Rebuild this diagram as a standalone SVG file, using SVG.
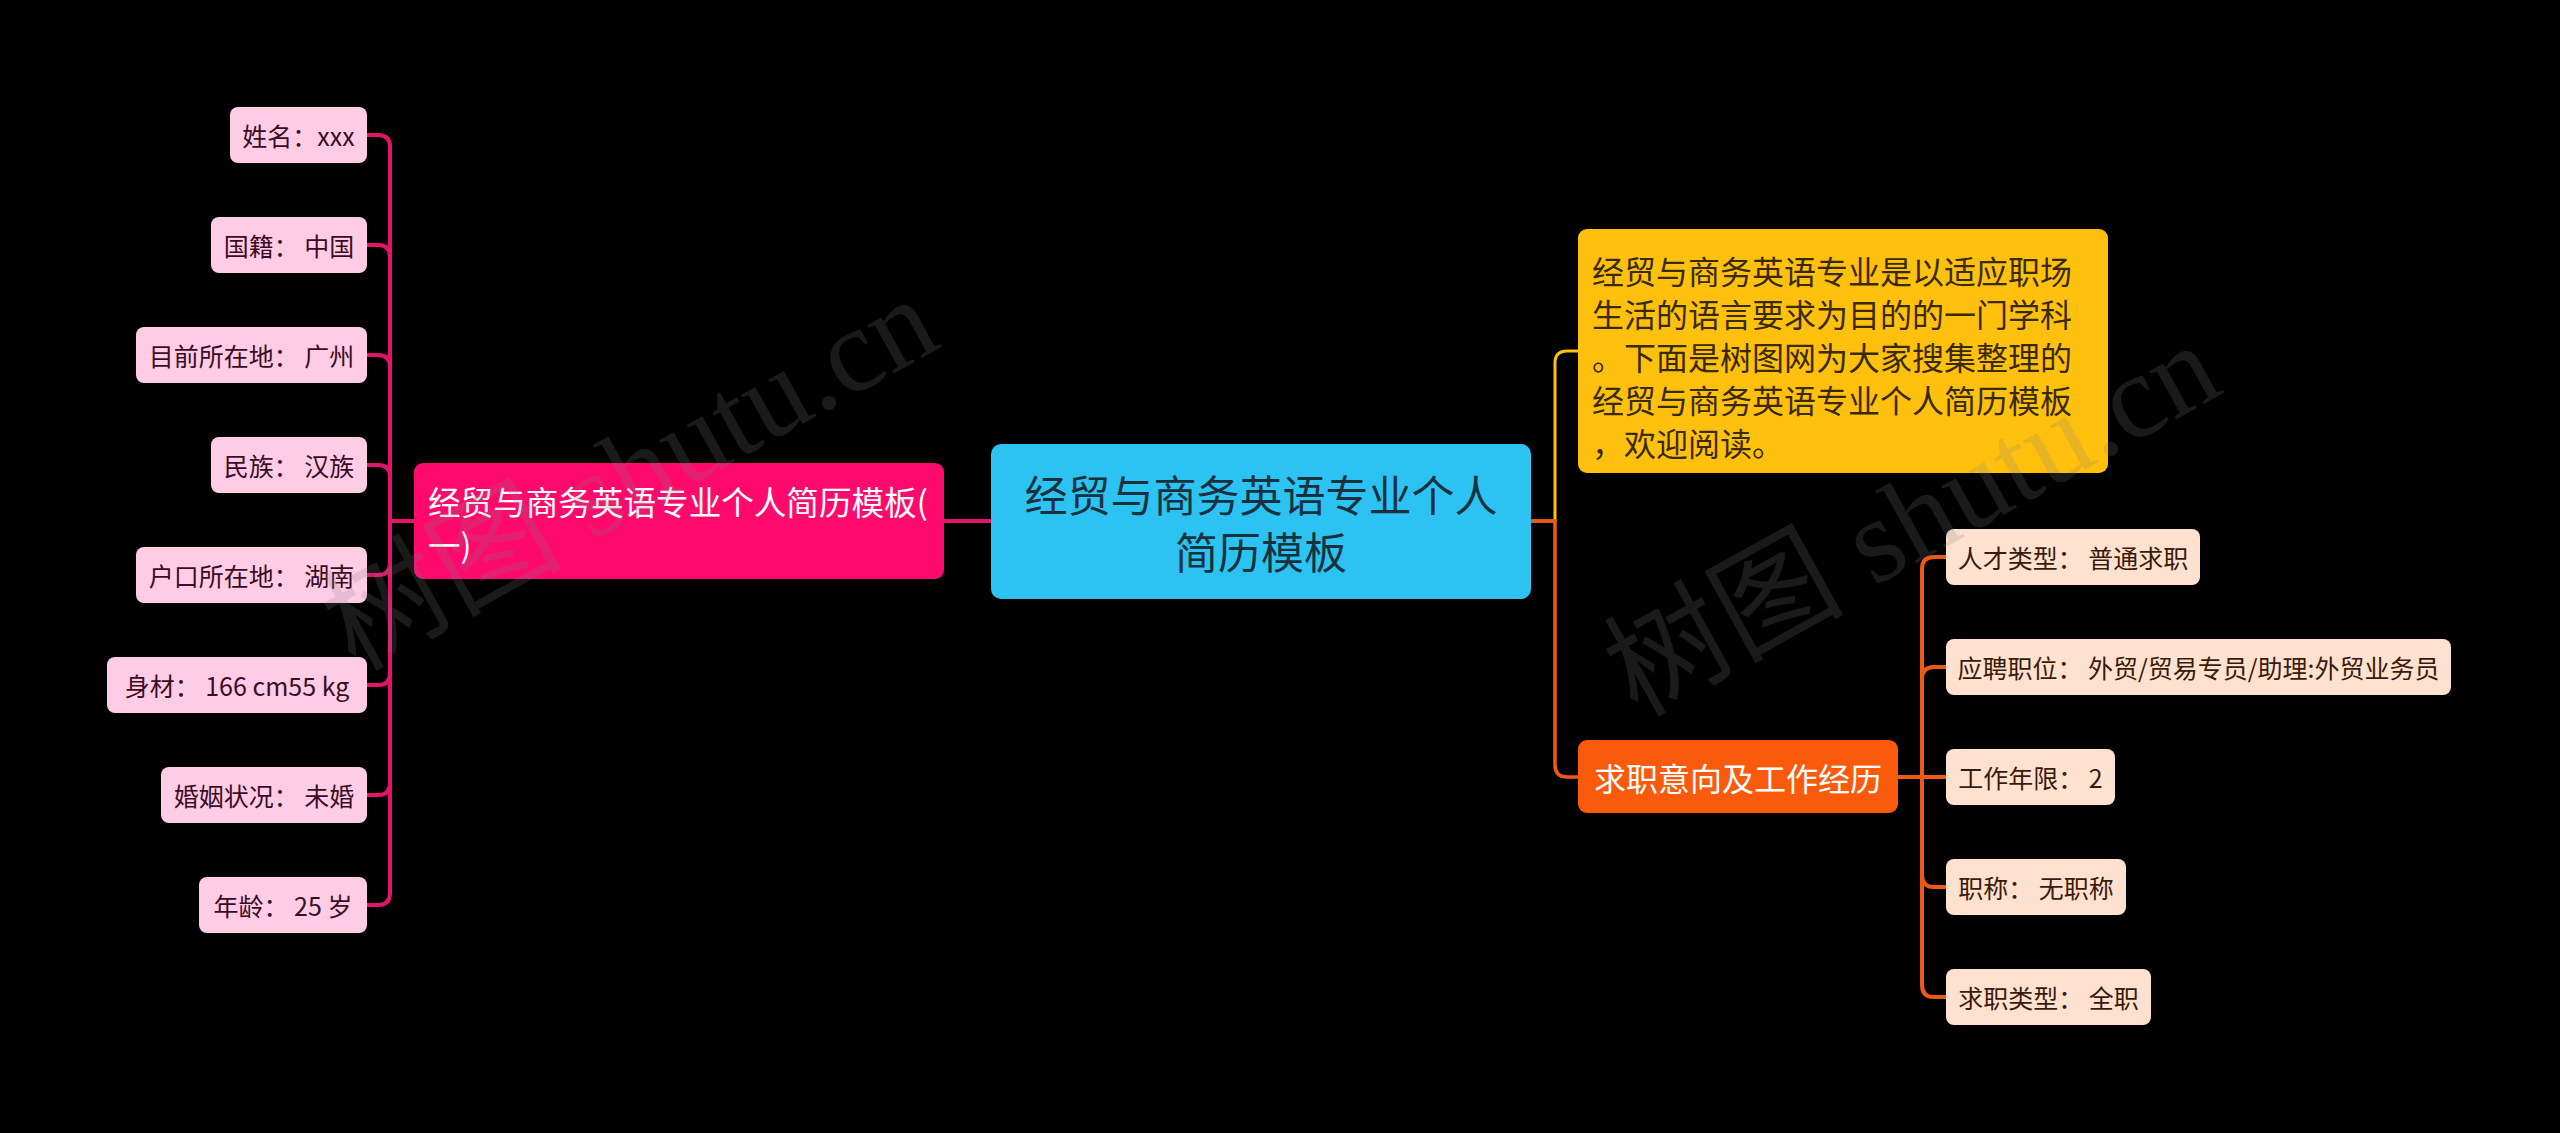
<svg xmlns="http://www.w3.org/2000/svg" width="2560" height="1133" viewBox="0 0 2560 1133">
<style>
text{font-family:"Noto Sans CJK SC","Noto Sans",sans-serif;dominant-baseline:central}
.pl rect{fill:#ffcce6}
.pl text{fill:#3a0d24;font-size:25px;text-anchor:middle}
.ol rect{fill:#ffe1cf}
.ol text{fill:#3a1a0a;font-size:25px;text-anchor:middle}
.cp{fill:none;stroke:#e3156b;stroke-width:4}
.cy{fill:none;stroke:#ffc10d;stroke-width:3}
.co{fill:none;stroke:#ee5a16;stroke-width:3.5}
.wm{font-family:"Liberation Serif","Noto Sans CJK SC",serif;font-size:120px;fill:#808080;opacity:0.2;dominant-baseline:auto}
</style>
<rect width="2560" height="1133" fill="#000"/>
<g id="connectors">
<path class="cp" d="M991 521H944"/>
<path class="cp" d="M414 521H390M367 135H378Q390 135 390 147V521M367 245H378Q390 245 390 257V521M367 355H378Q390 355 390 367V521M367 465H378Q390 465 390 477V521M367 575H378Q390 575 390 563V521M367 685H378Q390 685 390 673V521M367 795H378Q390 795 390 783V521M367 905H378Q390 905 390 893V521"/>
<path class="cy" d="M1531 521H1555V363Q1555 351 1567 351H1578"/>
<path class="co" d="M1531 521H1555V765Q1555 777 1567 777H1578"/>
<path class="co" style="stroke-width:4" d="M1898 777H1946M1946 557H1934Q1922 557 1922 569V777M1946 667H1934Q1922 667 1922 679V777M1946 887H1934Q1922 887 1922 875V777M1946 997H1934Q1922 997 1922 985V777"/>
</g>
<g id="root">
<rect x="991" y="444" width="540" height="155" rx="10" fill="#2cc3f2"/>
<text x="1261" y="493" font-size="43" fill="#17323f" text-anchor="middle">经贸与商务英语专业个人</text>
<text x="1261" y="550" font-size="43" fill="#17323f" text-anchor="middle">简历模板</text>
</g>
<g id="left-main">
<rect x="414" y="463" width="530" height="116" rx="9" fill="#fd0a6c"/>
<text x="428" y="500" font-size="32.6" fill="#fff">经贸与商务英语专业个人简历模板(</text>
<text x="428" y="543" font-size="32.6" fill="#fff">一)</text>
</g>
<g id="intro">
<rect x="1578" y="229" width="530" height="244" rx="9" fill="#ffc10d"/>
<g font-size="32" fill="#3a2a00">
<text x="1592" y="270">经贸与商务英语专业是以适应职场</text>
<text x="1592" y="313">生活的语言要求为目的的一门学科</text>
<text x="1592" y="356">。下面是树图网为大家搜集整理的</text>
<text x="1592" y="399">经贸与商务英语专业个人简历模板</text>
<text x="1592" y="442">，欢迎阅读。</text>
</g>
</g>
<g id="job">
<rect x="1578" y="740" width="320" height="73" rx="9" fill="#fa5a0c"/>
<text x="1738" y="777" font-size="32" fill="#fff" text-anchor="middle">求职意向及工作经历</text>
</g>
<g id="l-name" class="pl"><rect x="230" y="107" width="137" height="56" rx="8"/><text x="298.5" y="135">姓名：xxx</text></g>
<g id="l-nation" class="pl"><rect x="211" y="217" width="156" height="56" rx="8"/><text x="289" y="245">国籍： 中国</text></g>
<g id="l-loc" class="pl"><rect x="136" y="327" width="231" height="56" rx="8"/><text x="251.5" y="355">目前所在地： 广州</text></g>
<g id="l-eth" class="pl"><rect x="211" y="437" width="156" height="56" rx="8"/><text x="289" y="465">民族： 汉族</text></g>
<g id="l-hukou" class="pl"><rect x="136" y="547" width="231" height="56" rx="8"/><text x="251.5" y="575">户口所在地： 湖南</text></g>
<g id="l-body" class="pl"><rect x="107" y="657" width="260" height="56" rx="8"/><text x="237" y="685">身材： 166 cm55 kg</text></g>
<g id="l-mar" class="pl"><rect x="161" y="767" width="206" height="56" rx="8"/><text x="264" y="795">婚姻状况： 未婚</text></g>
<g id="l-age" class="pl"><rect x="199" y="877" width="168" height="56" rx="8"/><text x="283" y="905">年龄： 25 岁</text></g>
<g id="r-type" class="ol"><rect x="1946" y="529" width="254" height="56" rx="8"/><text x="2073" y="557">人才类型： 普通求职</text></g>
<g id="r-pos" class="ol"><rect x="1946" y="639" width="505" height="56" rx="8"/><text x="2198.5" y="667">应聘职位： 外贸/贸易专员/助理:外贸业务员</text></g>
<g id="r-years" class="ol"><rect x="1946" y="749" width="169" height="56" rx="8"/><text x="2030.5" y="777">工作年限： 2</text></g>
<g id="r-title" class="ol"><rect x="1946" y="859" width="180" height="56" rx="8"/><text x="2036" y="887">职称： 无职称</text></g>
<g id="r-kind" class="ol"><rect x="1946" y="969" width="205" height="56" rx="8"/><text x="2048.5" y="997">求职类型： 全职</text></g>
<text class="wm" x="355" y="672" transform="rotate(-29 355 672)">树图 shutu.cn</text>
<text class="wm" x="1637" y="718" transform="rotate(-29 1637 718)">树图 shutu.cn</text>
</svg>
